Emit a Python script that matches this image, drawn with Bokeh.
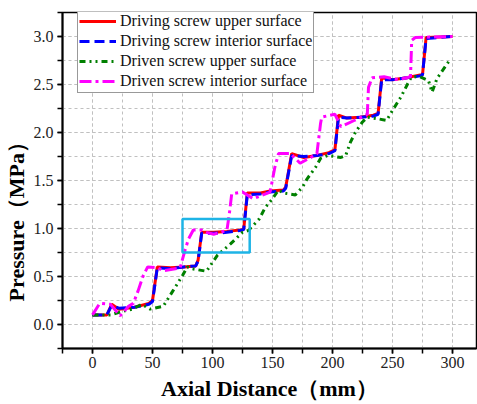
from bokeh.plotting import figure
from bokeh.models import SingleIntervalTicker, NumeralTickFormatter, Range1d, Legend, LegendItem
from bokeh.embed import file_html
from bokeh.resources import INLINE

# ---- data ----
x_drive = [0, 12, 16, 22, 35, 47, 50, 54, 65, 76, 86, 88, 91, 101, 112, 123, 126, 129, 140, 148,
           159, 161, 166, 176, 187, 197, 202, 205, 212, 223, 234, 238, 241, 250, 262, 273, 275, 278, 300]
y_drive_upper = [0.10, 0.10, 0.21, 0.16, 0.18, 0.22, 0.25, 0.60, 0.59, 0.60,
                 0.61, 0.67, 0.96, 0.96, 0.97, 0.985, 0.99, 1.37, 1.37, 1.39,
                 1.40, 1.43, 1.78, 1.74, 1.76, 1.79, 1.82, 2.18, 2.15, 2.16,
                 2.18, 2.20, 2.57, 2.55, 2.57, 2.60, 2.60, 2.99, 3.00]
y_drive_interior = [0.10, 0.10, 0.20, 0.17, 0.18, 0.21, 0.24, 0.59, 0.58, 0.60,
                    0.61, 0.66, 0.95, 0.95, 0.96, 0.98, 0.99, 1.35, 1.36, 1.38,
                    1.39, 1.42, 1.76, 1.75, 1.76, 1.78, 1.81, 2.16, 2.15, 2.16,
                    2.17, 2.19, 2.55, 2.55, 2.57, 2.59, 2.60, 2.98, 3.00]
x_driven_upper = [0, 15, 23, 33, 41, 48, 59, 67, 75, 79, 83, 95, 104, 115, 125, 130, 139, 144, 150, 155,
                  159, 169, 175, 179, 186, 190, 196, 207, 211, 215, 219, 225, 229, 239, 245, 250, 257, 264,
                  266, 273, 280, 283, 287, 298]
y_driven_upper = [0.10, 0.10, 0.13, 0.16, 0.21, 0.16, 0.19, 0.35, 0.51, 0.60,
                  0.58, 0.555, 0.72, 0.84, 0.96, 0.98, 1.10, 1.22, 1.31, 1.40,
                  1.37, 1.35, 1.43, 1.52, 1.64, 1.73, 1.76, 1.74, 1.76, 1.90,
                  2.00, 2.11, 2.16, 2.14, 2.125, 2.23, 2.37, 2.54, 2.58, 2.58,
                  2.54, 2.42, 2.56, 2.76]
x_driven_interior = [0, 6, 15, 23, 30, 34, 38, 42, 46, 54, 59, 73, 77, 80, 84, 91, 95, 101, 112, 114,
                     116, 125, 134, 148, 152, 155, 165, 173, 182, 187, 190, 191, 202, 207, 218, 229, 230,
                     233, 243, 255, 265, 266, 269, 300]
y_driven_interior = [0.10, 0.22, 0.21, 0.09, 0.19, 0.22, 0.35, 0.50, 0.60, 0.59,
                     0.56, 0.59, 0.77, 0.89, 0.985, 0.985, 0.96, 0.94, 0.98, 1.15,
                     1.36, 1.38, 1.31, 1.38, 1.64, 1.78, 1.78, 1.68, 1.74, 1.78,
                     2.09, 2.16, 2.19, 2.06, 2.125, 2.19, 2.47, 2.57, 2.58, 2.55,
                     2.58, 2.96, 2.99, 3.00]
series_names = ["Driving screw upper surface", "Driving screw interior surface",
                "Driven screw upper surface", "Driven screw interior surface"]
box_left, box_right, box_bottom, box_top = [75], [131], [0.75], [1.1]
x_title = "Axial Distance（mm）"
y_title = "Pressure（MPa）"

SERIF = "Liberation Serif"

p = figure(width=477, height=404, output_backend="svg", toolbar_location=None,
           x_range=Range1d(-25, 320), y_range=Range1d(-0.25, 3.25),
           min_border_left=62, min_border_right=1, min_border_top=12, min_border_bottom=56)
p.background_fill_color = "white"
p.border_fill_color = "white"
p.outline_line_color = "black"
p.outline_line_width = 1.5

p.xaxis.ticker = SingleIntervalTicker(interval=50, num_minor_ticks=2)
p.yaxis.ticker = SingleIntervalTicker(interval=0.5, num_minor_ticks=2)
p.yaxis.formatter = NumeralTickFormatter(format="0.0")

for ax in (p.xaxis[0], p.yaxis[0]):
    ax.axis_line_width = 2
    ax.axis_line_color = "black"
    ax.major_tick_line_color = "black"
    ax.minor_tick_line_color = "black"
    ax.major_tick_line_width = 1.5
    ax.minor_tick_line_width = 1.5
    ax.major_tick_in = 0
    ax.major_tick_out = 5
    ax.minor_tick_in = 0
    ax.minor_tick_out = 5
    ax.major_label_text_font = SERIF
    ax.major_label_text_font_size = "16px"
    ax.major_label_text_color = "#222222"
    ax.axis_label_text_font = SERIF
    ax.axis_label_text_font_style = "bold"
    ax.axis_label_text_font_size = "22px"
    ax.axis_label_text_color = "black"

p.xaxis.axis_label = x_title
# trailing ideographic spaces push the rotated title a little below the frame centre, as in the original
p.yaxis.axis_label = y_title + "\u3000\u3000\u3000 "
p.xaxis.major_label_standoff = 3
p.yaxis.major_label_standoff = 4
p.xaxis.axis_label_standoff = 5
p.yaxis.axis_label_standoff = 2

for g in (p.xgrid[0], p.ygrid[0]):
    g.grid_line_color = "#c0c0c0"
    g.grid_line_dash = "3 3"
    g.grid_line_width = 1
    g.minor_grid_line_color = "#c0c0c0"
    g.minor_grid_line_dash = "3 3"
    g.minor_grid_line_width = 1

r1 = p.line(x_drive, y_drive_upper, line_color="#FF0000", line_width=3)
r2 = p.line(x_drive, y_drive_interior, line_color="#0000FF", line_width=3, line_dash="10 5")
r3 = p.line(x_driven_upper, y_driven_upper, line_color="#008000", line_width=3, line_dash="6 4 2 4 2 4")
r4 = p.line(x_driven_interior, y_driven_interior, line_color="#FF00FF", line_width=3, line_dash="12 4 3 4")

p.quad(left=box_left, right=box_right, bottom=box_bottom, top=box_top,
       fill_alpha=0, line_color="#1EB4E6", line_width=2.5)

legend = Legend(items=[LegendItem(label=n, renderers=[r]) for n, r in zip(series_names, [r1, r2, r3, r4])],
                location=(15, 255))
legend.label_text_font = SERIF
legend.label_text_font_size = "16px"
legend.label_text_color = "#111111"
legend.glyph_width = 37
legend.glyph_height = 20
legend.label_height = 20
legend.label_standoff = 4
legend.spacing = 0
legend.padding = 1
legend.margin = 0
legend.border_line_color = "#333333"
legend.border_line_width = 1
legend.background_fill_color = "white"
legend.background_fill_alpha = 1
p.add_layout(legend)

open("out.html", "w").write(file_html(p, INLINE))
